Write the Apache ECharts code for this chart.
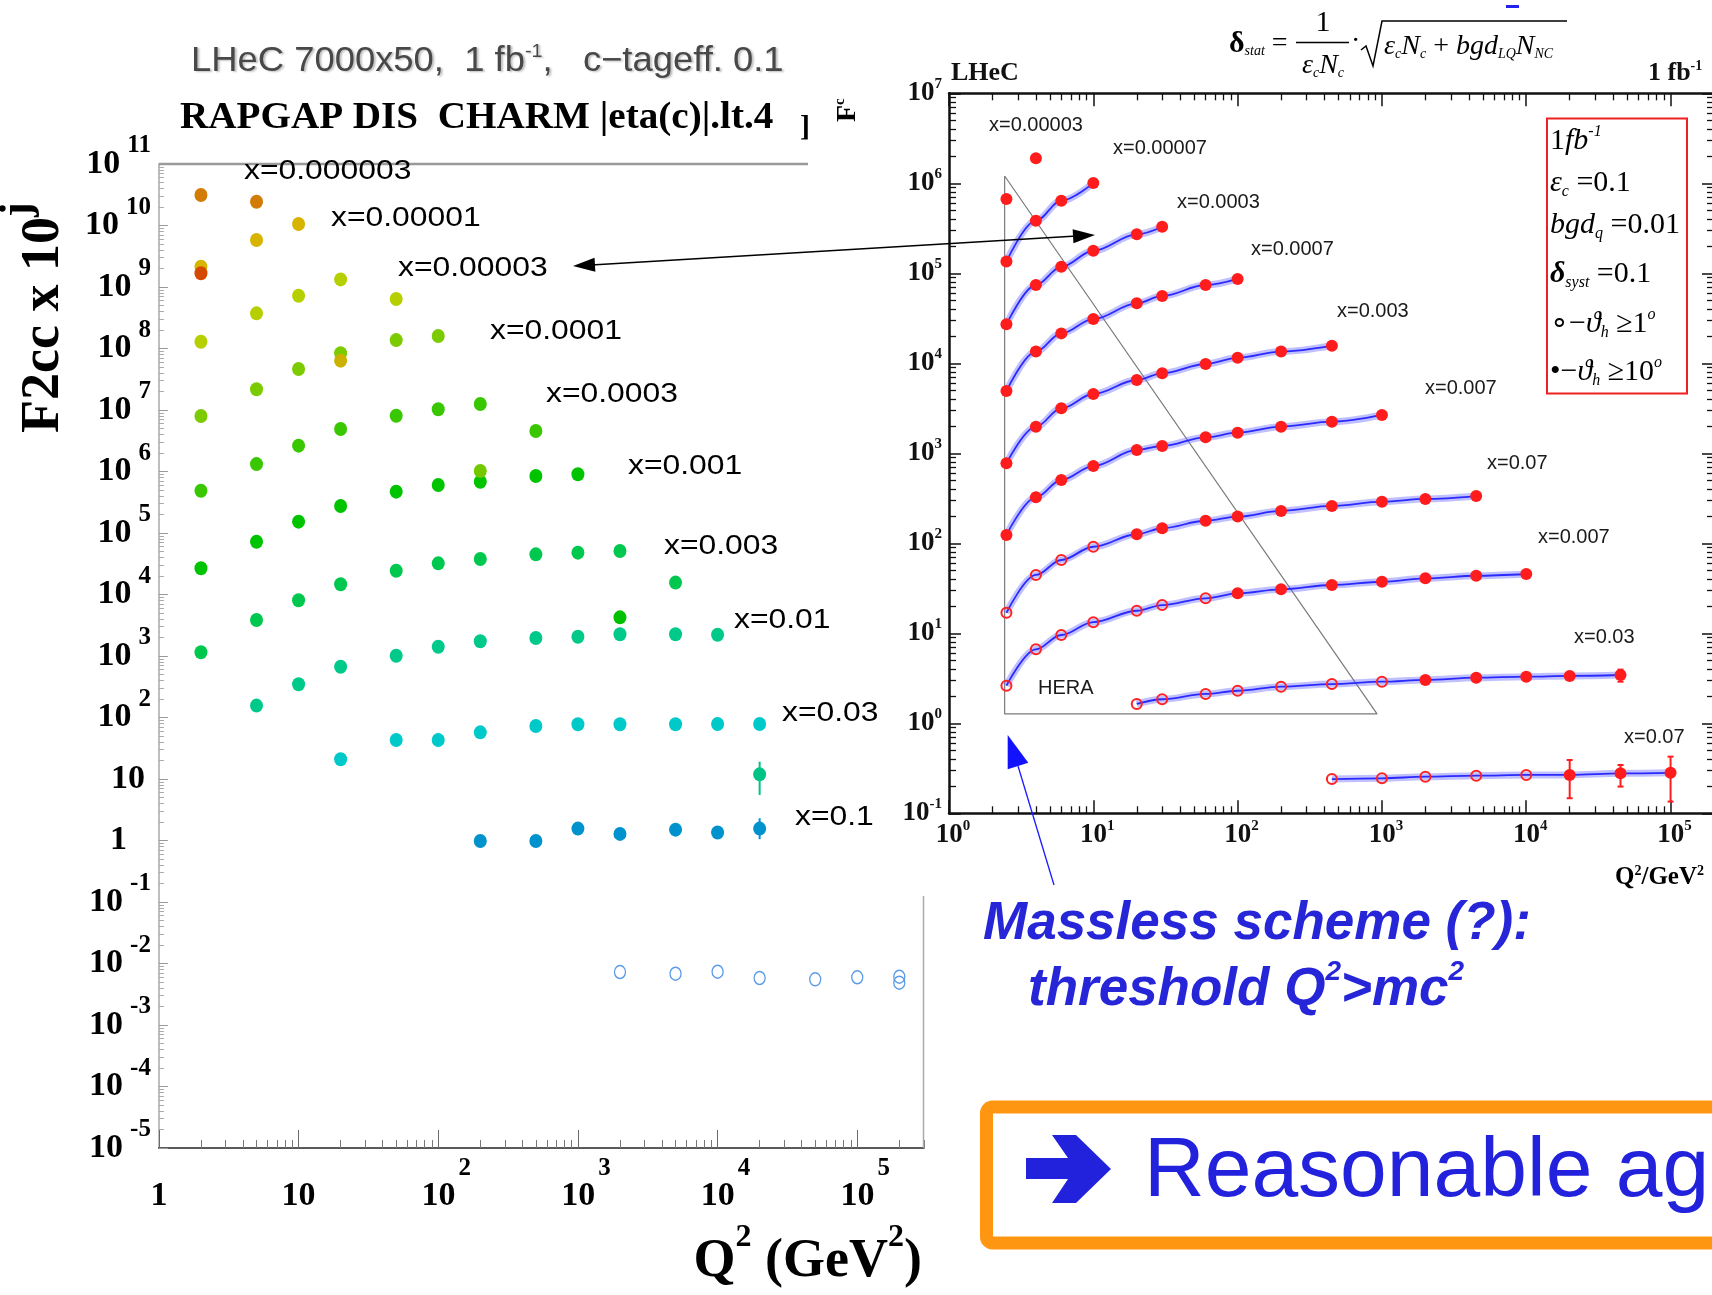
<!DOCTYPE html>
<html>
<head>
<meta charset="utf-8">
<title>F2cc LHeC</title>
<script src="https://cdn.jsdelivr.net/npm/echarts@6/dist/echarts.min.js"></script>
<style>
html,body{margin:0;padding:0;background:#ffffff;}
#chart{width:1712px;height:1295px;}
</style>
</head>
<body>
<div id="chart"></div>
<script>
// ================= DATA : left panel (RAPGAP DIS charm, F2cc x 10^j) =================
const L_LABELS = ['x=0.000003','x=0.00001','x=0.00003','x=0.0001','x=0.0003','x=0.001','x=0.003','x=0.01','x=0.03','x=0.1'];
const L_Q2_A = [2, 5];
const L_F_A  = [3.13e10, 2.44e10];
const L_Q2_B = [2, 5, 10];
const L_F_B  = [2.14e9, 5.81e9, 1.06e10];
const L_Q2_C = [2, 5, 10, 20, 50];
const L_F_C  = [1.29e8, 3.73e8, 7.22e8, 1.33e9, 6.38e8];
const L_Q2_D = [2, 5, 10, 20, 50, 100];
const L_F_D  = [7.98e6, 2.17e7, 4.65e7, 8.35e7, 1.37e8, 1.60e8];
const L_Q2_E = [2, 5, 10, 20, 50, 100, 200, 500];
const L_F_E  = [4.87e5, 1.32e6, 2.63e6, 4.91e6, 8.07e6, 1.03e7, 1.25e7, 4.56e6];
const L_Q2_F = [2, 5, 10, 20, 50, 100, 200, 500, 1000];
const L_F_F  = [2.67e4, 7.22e4, 1.53e5, 2.75e5, 4.70e5, 6.03e5, 6.82e5, 8.45e5, 9.00e5];
const L_Q2_G = [2, 5, 10, 20, 50, 100, 200, 500, 1000, 2000, 5000];
const L_F_G  = [1148, 3846, 8050, 1.47e4, 2.44e4, 3.21e4, 3.77e4, 4.50e4, 4.79e4, 5.10e4, 1.56e4];
const L_Q2_H = [5, 10, 20, 50, 100, 200, 500, 1000, 2000, 5000, 10000];
const L_F_H  = [156, 347, 670, 1011, 1417, 1734, 1963, 2061, 2254, 2254, 2220];
const L_Q2_I = [20, 50, 100, 200, 500, 1000, 2000, 5000, 10000, 20000];
const L_F_I  = [20.9, 43.0, 43.0, 57.4, 72.8, 77.5, 77.5, 77.5, 78.3, 78.3];
const L_Q2_J = [200, 500, 1000, 2000, 5000, 10000, 20000];
const L_F_J  = [0.98, 0.98, 1.56, 1.28, 1.50, 1.35, 1.56];
const L_Q2_OPEN = [2000, 5000, 10000, 20000, 50000, 100000, 200000, 200000];
const L_F_OPEN  = [7.27e-3, 6.83e-3, 7.36e-3, 5.81e-3, 5.53e-3, 5.97e-3, 6.10e-3, 4.88e-3];
const L_Q2_EXTRA = [2, 20, 200, 2000, 20000];
const L_F_EXTRA  = [1.67e9, 6.34e7, 1.02e6, 4250, 11.9];
const L_ERR_Q2 = [200, 20000, 20000];
const L_ERR_LO = [0.86, 1.05, 5.5];
const L_ERR_HI = [1.00, 2.30, 19.1];
const LX_MAJOR = [1, 10, 100, 1000, 10000, 100000];
const LY_MAJOR = [1e-5, 1e-4, 1e-3, 1e-2, 1e-1, 1, 10, 100, 1e3, 1e4, 1e5, 1e6, 1e7, 1e8, 1e9, 1e10, 1e11];

// ================= DATA : right panel (LHeC pseudo data) =================
const R_LABELS = ['x=0.00003','x=0.00007','x=0.0003','x=0.0007','x=0.003','x=0.007','x=0.07','x=0.007','x=0.03','x=0.07'];
const R_Q2_A = [2.5, 4];
const R_F_A  = [6.7e5, 1.9e6];
const R_Q2_B = [2.5, 4, 6, 10];
const R_F_B  = [1.35e5, 3.84e5, 6.41e5, 1.01e6];
const R_Q2_C = [2.5, 4, 6, 10, 20, 30];
const R_F_C  = [2.71e4, 7.41e4, 1.18e5, 1.78e5, 2.71e5, 3.29e5];
const R_Q2_D = [2.5, 4, 6, 10, 20, 30, 60, 100];
const R_F_D  = [4920, 1.35e4, 2.15e4, 3.10e4, 4.64e4, 5.60e4, 7.41e4, 8.65e4];
const R_Q2_E = [2.5, 4, 6, 10, 20, 30, 60, 100, 200, 450];
const R_F_E  = [774, 1977, 3162, 4560, 6520, 7740, 9820, 1.15e4, 1.35e4, 1.57e4];
const R_Q2_F = [2.5, 4, 6, 10, 20, 30, 60, 100, 200, 450, 1000];
const R_F_F  = [124, 324, 505, 722, 1089, 1205, 1506, 1693, 1977, 2245, 2666];
const R_Q2_G = [2.5, 4, 6, 10, 20, 30, 60, 100, 200, 450, 1000, 2000, 4500];
const R_F_G  = [16.9, 44.5, 65.2, 91.6, 126, 147, 178, 198, 229, 260, 290, 311, 335];
const R_Q2_H = [2.5, 4, 6, 10, 20, 30, 60, 100, 200, 450, 1000, 2000, 4500, 10000];
const R_F_H  = [2.62, 6.64, 9.57, 13.3, 17.8, 20.6, 24.5, 27.8, 30.8, 34.4, 37.4, 40.8, 43.6, 45.6];
const R_Q2_I = [20, 30, 60, 100, 200, 450, 1000, 2000, 4500, 10000, 20000, 45000];
const R_F_I  = [1.64, 1.85, 2.12, 2.30, 2.55, 2.73, 2.90, 3.03, 3.21, 3.30, 3.36, 3.44];
const R_Q2_J = [450, 1000, 2000, 4500, 10000, 20000, 45000, 100000];
const R_F_J  = [0.240, 0.245, 0.255, 0.262, 0.267, 0.267, 0.278, 0.282];
const R_OPEN_COUNT = [0, 0, 0, 0, 0, 0, 4, 7, 7, 5];
const R_ERR_Q2 = [45000, 20000, 45000, 100000];
const R_ERR_LO = [2.90, 0.147, 0.198, 0.135];
const R_ERR_HI = [3.95, 0.391, 0.344, 0.426];
const HERA_Q2 = [2.43, 2.43, 925, 2.43];
const HERA_F  = [1.205e6, 1.27, 1.27, 1.205e6];
const RX_MAJOR = [1, 10, 100, 1000, 10000, 100000];
const RY_MAJOR = [0.1, 1, 10, 100, 1e3, 1e4, 1e5, 1e6, 1e7];

// ================= STYLE =================
const SERIF = '"Liberation Serif","Times New Roman",serif';
const SANS = '"Liberation Sans",Arial,sans-serif';
const L_COLORS = ['#d27c06','#d6b400','#b6cf00','#7ccb00','#38c700','#00c400','#00c84e','#00c98a','#00c9c9','#0092cc'];
const L_EXTRA_COLORS = ['#d44800','#ccb200','#74c800','#00c000','#00c486'];
const L_ERR_COLORS = ['#0092cc','#0092cc','#00c486'];

// ================= helpers =================
const pairs = (q, f) => q.map((x, i) => [x, f[i]]);
function minorTicks(e0, e1, max) {
  const r = [];
  for (let e = e0; e < e1; e++) for (let m = 2; m <= 9; m++) {
    const v = m * Number('1e' + e);
    if (v <= max * 1.0000001) r.push(v);
  }
  return r;
}
const LX_MINOR = minorTicks(0, 6, 3e5);
const LY_MINOR = minorTicks(-5, 11, 1e11);
const RX_MINOR = minorTicks(0, 6, 2e5);
const RY_MINOR = minorTicks(-1, 7, 1e7);
const expOf = v => Math.round(Math.log10(v));

function logAxis(o) {
  return Object.assign({
    type: 'log', logBase: 10, silent: true,
    splitLine: {show: false}, minorTick: {show: false}, minorSplitLine: {show: false},
    axisLine: {show: false}, axisTick: {show: false}, axisLabel: {show: false},
    axisPointer: {show: false}
  }, o);
}

const LX_RICH = {
  b: {fontFamily: SERIF, fontWeight: 'bold', fontSize: 34, lineHeight: 80, color: '#000'},
  s: {fontFamily: SERIF, fontWeight: 'bold', fontSize: 25, lineHeight: 25, padding: [0, 0, 54, 3], color: '#000'},
  p: {width: 16, fontSize: 10}
};
function lxFmt(v) {
  const e = expOf(v);
  if (e === 0) return '{b|1}';
  if (e === 1) return '{b|10}';
  return '{p| }{b|10}{s|' + e + '}';
}
const LY_RICH = {
  b: {fontFamily: SERIF, fontWeight: 'bold', fontSize: 34, lineHeight: 60, color: '#000'},
  s: {fontFamily: SERIF, fontWeight: 'bold', fontSize: 25, lineHeight: 25, padding: [0, 0, 36, 7], color: '#000'},
  q1: {width: 24, fontSize: 10},
  q2: {width: 6, fontSize: 10}
};
function lyFmt(v) {
  const e = expOf(v);
  if (e === 0) return '{b|1}{q1| }';
  if (e === 1) return '{b|10}{q2| }';
  return '{b|10}{s|' + e + '}';
}
const RY_RICH = {
  b: {fontFamily: SERIF, fontWeight: 'bold', fontSize: 27, lineHeight: 36, color: '#111'},
  s: {fontFamily: SERIF, fontWeight: 'bold', fontSize: 15, lineHeight: 15, padding: [0, 0, 18, 0], color: '#111'}
};
function ryFmt(v) { return '{b|10}{s|' + expOf(v) + '}'; }
const RX_RICH = {
  b: {fontFamily: SERIF, fontWeight: 'bold', fontSize: 27, lineHeight: 36, color: '#111'},
  s: {fontFamily: SERIF, fontWeight: 'bold', fontSize: 15, lineHeight: 15, padding: [0, 0, 18, 0], color: '#111'},
  p: {width: 8, fontSize: 10}
};
function rxFmt(v) { return '{p| }{b|10}{s|' + expOf(v) + '}'; }

function errSeries(xi, yi, q, lo, hi, colors, cap, width, z) {
  return {
    type: 'custom', xAxisIndex: xi, yAxisIndex: yi, silent: true, z: z,
    data: q.map((x, i) => [x, lo[i], hi[i], i]),
    renderItem: function (params, api) {
      const p1 = api.coord([api.value(0), api.value(1)]);
      const p2 = api.coord([api.value(0), api.value(2)]);
      const col = colors[api.value(3)] || colors[0];
      const st = {stroke: col, lineWidth: width};
      const ch = [{type: 'line', shape: {x1: p1[0], y1: p1[1], x2: p2[0], y2: p2[1]}, style: st}];
      if (cap) {
        ch.push({type: 'line', shape: {x1: p1[0] - cap, y1: p1[1], x2: p1[0] + cap, y2: p1[1]}, style: st});
        ch.push({type: 'line', shape: {x1: p2[0] - cap, y1: p2[1], x2: p2[0] + cap, y2: p2[1]}, style: st});
      }
      return {type: 'group', children: ch};
    }
  };
}

// ================= series =================
const L_SETS = [[L_Q2_A, L_F_A], [L_Q2_B, L_F_B], [L_Q2_C, L_F_C], [L_Q2_D, L_F_D], [L_Q2_E, L_F_E],
                [L_Q2_F, L_F_F], [L_Q2_G, L_F_G], [L_Q2_H, L_F_H], [L_Q2_I, L_F_I], [L_Q2_J, L_F_J]];
const R_SETS = [[R_Q2_A, R_F_A], [R_Q2_B, R_F_B], [R_Q2_C, R_F_C], [R_Q2_D, R_F_D], [R_Q2_E, R_F_E],
                [R_Q2_F, R_F_F], [R_Q2_G, R_F_G], [R_Q2_H, R_F_H], [R_Q2_I, R_F_I], [R_Q2_J, R_F_J]];

const series = [];
L_SETS.forEach((s, i) => series.push({
  type: 'scatter', name: L_LABELS[i], xAxisIndex: 0, yAxisIndex: 0, silent: true, z: 3,
  symbol: 'circle', symbolSize: [13, 14], itemStyle: {color: L_COLORS[i], opacity: 1},
  data: pairs(s[0], s[1])
}));
series.push({
  type: 'scatter', xAxisIndex: 0, yAxisIndex: 0, silent: true, z: 4,
  symbol: 'circle', symbolSize: [13, 14],
  data: L_Q2_EXTRA.map((q, i) => ({value: [q, L_F_EXTRA[i]], itemStyle: {color: L_EXTRA_COLORS[i], opacity: 1}}))
});
series.push({
  type: 'scatter', xAxisIndex: 0, yAxisIndex: 0, silent: true, z: 3,
  symbol: 'circle', symbolSize: [11, 13],
  itemStyle: {color: 'rgba(255,255,255,0)', borderColor: '#5b9be8', borderWidth: 1.4, opacity: 1},
  data: pairs(L_Q2_OPEN, L_F_OPEN)
});
series.push(errSeries(0, 0, L_ERR_Q2, L_ERR_LO, L_ERR_HI, L_ERR_COLORS, 0, 2, 2));

// HERA triangle
series.push({
  type: 'line', xAxisIndex: 2, yAxisIndex: 2, silent: true, z: 1, symbol: 'none',
  lineStyle: {color: '#7a7a7a', width: 1.2}, data: pairs(HERA_Q2, HERA_F)
});
R_SETS.forEach((s, i) => {
  const d = pairs(s[0], s[1]);
  if (i > 0) {
    series.push({type: 'line', xAxisIndex: 2, yAxisIndex: 2, silent: true, z: 2, symbol: 'none',
      smooth: 0.35, smoothMonotone: 'x', lineStyle: {color: 'rgba(105,105,255,0.42)', width: 7}, data: d});
    series.push({type: 'line', xAxisIndex: 2, yAxisIndex: 2, silent: true, z: 3, symbol: 'none',
      smooth: 0.35, smoothMonotone: 'x', lineStyle: {color: '#2a2aff', width: 1.8}, data: d});
  }
  const n = R_OPEN_COUNT[i];
  if (n > 0) series.push({type: 'scatter', name: R_LABELS[i], xAxisIndex: 2, yAxisIndex: 2, silent: true, z: 5,
    symbol: 'circle', symbolSize: 10,
    itemStyle: {color: 'rgba(255,255,255,0)', borderColor: '#ff2222', borderWidth: 2, opacity: 1},
    data: d.slice(0, n)});
  series.push({type: 'scatter', name: R_LABELS[i], xAxisIndex: 2, yAxisIndex: 2, silent: true, z: 5,
    symbol: 'circle', symbolSize: 12, itemStyle: {color: '#ff1c1c', opacity: 1}, data: d.slice(n)});
});
series.push(errSeries(2, 2, R_ERR_Q2, R_ERR_LO, R_ERR_HI, ['#ff1c1c'], 3, 2, 6));

// ================= graphic annotations =================
const G = [];
function T(x, y, style, extra) {
  G.push(Object.assign({type: 'text', x: x, y: y, z: 100, silent: true,
    style: Object.assign({fill: '#000', align: 'left', verticalAlign: 'middle'}, style)}, extra || {}));
}
function L(x1, y1, x2, y2, stroke, w) {
  G.push({type: 'line', z: 100, silent: true, shape: {x1, y1, x2, y2}, style: {stroke: stroke, lineWidth: w}});
}

// left panel titles
T(191, 61, {text: 'LHeC 7000x50,  1 fb{sp|-1},   c\u2212tageff. 0.1', fontFamily: SANS, fontSize: 35, fill: '#484848',
  textShadowColor: 'rgba(0,0,0,0.25)', textShadowBlur: 2, textShadowOffsetX: 2, textShadowOffsetY: 1,
  rich: {sp: {fontFamily: SANS, fontSize: 19, padding: [0, 0, 18, 0], fill: '#484848'}}}, {scaleX: 1.04});
T(180, 118, {text: 'RAPGAP DIS  CHARM |eta(c)|.lt.4', fontFamily: SERIF, fontWeight: 'bold', fontSize: 38}, {scaleX: 1.03});
T(800, 128, {text: ']', fontFamily: SERIF, fontWeight: 'bold', fontSize: 30});
T(848, 122, {text: '{b|F}{s|c}', rich: {b: {fontFamily: SERIF, fontWeight: 'bold', fontSize: 28}, s: {fontFamily: SERIF, fontWeight: 'bold', fontSize: 15, padding: [0, 0, 16, 0]}}}, {rotation: Math.PI / 2});

// left frame pieces
L(158.9, 164, 808, 164, '#9a9a9a', 2.5);
L(923.5, 896, 923.5, 1148, '#aaaaaa', 1.5);

// left axis titles
T(44, 433, {text: '{b|F2cc x 10}{s|j}', rich: {
  b: {fontFamily: SERIF, fontWeight: 'bold', fontSize: 54, lineHeight: 90},
  s: {fontFamily: SERIF, fontWeight: 'bold', fontSize: 44, lineHeight: 44, padding: [0, 0, 50, 0]}}}, {rotation: Math.PI / 2});
T(922, 1262, {align: 'right', text: '{b|Q}{s|2}{b| (GeV}{s|2}{b|)}', rich: {
  b: {fontFamily: SERIF, fontWeight: 'bold', fontSize: 54, lineHeight: 80},
  s: {fontFamily: SERIF, fontWeight: 'bold', fontSize: 32, lineHeight: 32, padding: [0, 0, 48, 0]}}});

// left bin labels
const L_LABEL_POS = [[244, 172], [331, 219], [398, 269], [490, 332], [546, 395], [628, 467], [664, 547], [734, 621], [782, 714], [795, 818]];
L_LABELS.forEach((t, i) => T(L_LABEL_POS[i][0], L_LABEL_POS[i][1], {text: t, fontFamily: SANS, fontSize: 27}, {scaleX: 1.18}));

// right panel texts
T(951, 73, {text: 'LHeC', fontFamily: SERIF, fontWeight: 'bold', fontSize: 26, fill: '#111'});
T(1648, 73, {text: '1 fb{s|-1}', fontFamily: SERIF, fontWeight: 'bold', fontSize: 26, fill: '#111',
  rich: {s: {fontFamily: SERIF, fontWeight: 'bold', fontSize: 14, padding: [0, 0, 14, 0], fill: '#111'}}});
// formula
const FR = {
  d: {fontFamily: SERIF, fontWeight: 'bold', fontSize: 30},
  n: {fontFamily: SERIF, fontSize: 28},
  i: {fontFamily: SERIF, fontStyle: 'italic', fontSize: 28},
  sb: {fontFamily: SERIF, fontStyle: 'italic', fontSize: 14, padding: [14, 0, 0, 0]}
};
T(1229, 44, {text: '{d|\u03b4}{sb|stat}{n| =}', rich: FR});
T(1323, 23, {text: '1', fontFamily: SERIF, fontSize: 30, align: 'center'});
L(1296, 42.5, 1349, 42.5, '#000', 1.5);
T(1323, 66, {text: '{i|\u03b5}{sb|c}{i|N}{sb|c}', align: 'center', rich: FR});
T(1351, 42, {text: '\u00b7', fontFamily: SERIF, fontSize: 28});
G.push({type: 'polyline', z: 100, silent: true, shape: {points: [[1361, 50], [1366, 46], [1373, 66], [1382, 21], [1567, 21]]},
  style: {stroke: '#000', lineWidth: 1.5, fill: null}});
T(1384, 47, {text: '{i|\u03b5}{sb|c}{i|N}{sb|c}{n| + }{i|bgd}{sb|LQ}{i|N}{sb|NC}', rich: FR});
G.push({type: 'rect', z: 100, silent: true, shape: {x: 1506, y: 5, width: 13, height: 3}, style: {fill: '#2222ee'}});

// right panel bin labels
const R_LABEL_POS = [[989, 125], [1113, 148], [1177, 202], [1251, 249], [1337, 311], [1425, 388], [1487, 463], [1538, 537], [1574, 637], [1624, 737]];
R_LABELS.forEach((t, i) => T(R_LABEL_POS[i][0], R_LABEL_POS[i][1], {text: t, fontFamily: SANS, fontSize: 20, fill: '#1a1a1a'}));
T(1038, 688, {text: 'HERA', fontFamily: SANS, fontSize: 20, fill: '#1a1a1a'});
T(1615, 878, {text: '{b|Q}{s|2}{b|/GeV}{s|2}', rich: {
  b: {fontFamily: SERIF, fontWeight: 'bold', fontSize: 25},
  s: {fontFamily: SERIF, fontWeight: 'bold', fontSize: 14, padding: [0, 0, 14, 0]}}});

// legend box
G.push({type: 'rect', z: 100, silent: true, shape: {x: 1547, y: 118.5, width: 140, height: 275},
  style: {fill: 'rgba(255,255,255,0)', stroke: '#ee2020', lineWidth: 2}});
const LG_RICH = {
  n: {fontFamily: SERIF, fontSize: 30},
  i: {fontFamily: SERIF, fontStyle: 'italic', fontSize: 30},
  b: {fontFamily: SERIF, fontStyle: 'italic', fontWeight: 'bold', fontSize: 30},
  sub: {fontFamily: SERIF, fontStyle: 'italic', fontSize: 16, padding: [18, 0, 0, 0]},
  sup: {fontFamily: SERIF, fontStyle: 'italic', fontSize: 16, padding: [0, 0, 18, 0]}
};
const LEG_LINES = ['{n|1}{i|fb}{sup|-1}', '{i|\u03b5}{sub|c}{n| =0.1}', '{i|bgd}{sub|q}{n| =0.01}',
  '{b|\u03b4}{sub|syst}{n| =0.1}', '{n|\u2218\u2212}{i|\u03d1}{sub|h}{n| \u22651}{sup|o}', '{n|\u2022\u2212}{i|\u03d1}{sub|h}{n| \u226510}{sup|o}'];
const LEG_Y = [141, 183, 225, 274, 324, 372];
LEG_LINES.forEach((t, i) => T(1550, LEG_Y[i], {text: t, rich: LG_RICH}));

// black double arrow
(function () {
  const a = [573, 266], b = [1095, 235];
  const dx = b[0] - a[0], dy = b[1] - a[1], len = Math.hypot(dx, dy);
  const ux = dx / len, uy = dy / len, nx = -uy, ny = ux, hl = 22, hw = 7;
  L(a[0] + ux * 10, a[1] + uy * 10, b[0] - ux * 10, b[1] - uy * 10, '#000', 1.5);
  G.push({type: 'polygon', z: 101, silent: true, style: {fill: '#000'}, shape: {points: [
    a, [a[0] + ux * hl + nx * hw, a[1] + uy * hl + ny * hw], [a[0] + ux * hl - nx * hw, a[1] + uy * hl - ny * hw]]}});
  G.push({type: 'polygon', z: 101, silent: true, style: {fill: '#000'}, shape: {points: [
    b, [b[0] - ux * hl + nx * hw, b[1] - uy * hl + ny * hw], [b[0] - ux * hl - nx * hw, b[1] - uy * hl - ny * hw]]}});
})();

// blue arrow to HERA corner
L(1054, 885, 1018, 766, '#1a1aff', 1.3);
G.push({type: 'polygon', z: 101, silent: true, style: {fill: '#1212ff'}, shape: {points: [[1007.7, 735], [1007.7, 769.3], [1028.3, 762.7]]}});

// blue comments
const BLUE = '#2626d8';
T(983, 924, {text: 'Massless scheme (?):', fontFamily: SANS, fontWeight: 'bold', fontStyle: 'italic', fontSize: 53, fill: BLUE});
T(1028, 990, {text: '{b|threshold Q}{s|2}{b|>mc}{s|2}', fill: BLUE, rich: {
  b: {fontFamily: SANS, fontWeight: 'bold', fontStyle: 'italic', fontSize: 53, lineHeight: 70, fill: BLUE},
  s: {fontFamily: SANS, fontWeight: 'bold', fontStyle: 'italic', fontSize: 28, lineHeight: 28, padding: [0, 0, 36, 0], fill: BLUE}}});

// orange conclusion box
G.push({type: 'rect', z: 100, silent: true, shape: {x: 986.5, y: 1107, width: 780, height: 136, r: 6},
  style: {fill: '#ffffff', stroke: '#ff9612', lineWidth: 13}});
G.push({type: 'polygon', z: 101, silent: true, style: {fill: '#2222dd'}, shape: {points: [
  [1026, 1158], [1068, 1158], [1052, 1135], [1076, 1135], [1111, 1169], [1076, 1203], [1052, 1203], [1068, 1179], [1026, 1179]]}});
T(1144, 1173, {text: 'Reasonable agreement', fontFamily: SANS, fontSize: 84, fill: '#2222dd'});

// ================= option =================
const option = {
  animation: false,
  backgroundColor: '#ffffff',
  tooltip: {show: false},
  grid: [
    {left: 158.9, top: 164, width: 765, height: 984, containLabel: false, outerBoundsMode: 'none'},
    {left: 949, top: 93.3, width: 765, height: 720, containLabel: false, outerBoundsMode: 'none'}
  ],
  xAxis: [
    logAxis({gridIndex: 0, position: 'bottom', min: 1, max: 3e5,
      axisLine: {show: true, onZero: false, lineStyle: {color: '#5a5a5a', width: 2}},
      axisTick: {show: true, inside: true, length: 18, customValues: LX_MAJOR, lineStyle: {color: '#6a6a6a', width: 1}},
      axisLabel: {show: true, customValues: LX_MAJOR, margin: 8, formatter: lxFmt, rich: LX_RICH, color: '#000'}}),
    logAxis({gridIndex: 0, position: 'bottom', min: 1, max: 3e5,
      axisTick: {show: true, inside: true, length: 8, customValues: LX_MINOR, lineStyle: {color: '#777', width: 1}}}),
    logAxis({gridIndex: 1, position: 'bottom', min: 1, max: 2e5,
      axisLine: {show: true, onZero: false, lineStyle: {color: '#111', width: 2.5}},
      axisTick: {show: true, inside: true, length: 13, customValues: RX_MAJOR, lineStyle: {color: '#111', width: 1.5}},
      axisLabel: {show: true, customValues: RX_MAJOR, margin: 4, formatter: rxFmt, rich: RX_RICH, color: '#111'}}),
    logAxis({gridIndex: 1, position: 'bottom', min: 1, max: 2e5,
      axisTick: {show: true, inside: true, length: 7, customValues: RX_MINOR, lineStyle: {color: '#111', width: 1.3}}}),
    logAxis({gridIndex: 1, position: 'top', min: 1, max: 2e5,
      axisLine: {show: true, onZero: false, lineStyle: {color: '#111', width: 2.5}},
      axisTick: {show: true, inside: true, length: 13, customValues: RX_MAJOR, lineStyle: {color: '#111', width: 1.5}}}),
    logAxis({gridIndex: 1, position: 'top', min: 1, max: 2e5,
      axisTick: {show: true, inside: true, length: 7, customValues: RX_MINOR, lineStyle: {color: '#111', width: 1.3}}})
  ],
  yAxis: [
    logAxis({gridIndex: 0, position: 'left', min: 1e-5, max: 1e11,
      axisLine: {show: true, onZero: false, lineStyle: {color: '#a8a8a8', width: 1.5}},
      axisTick: {show: true, inside: true, length: 9, customValues: LY_MAJOR, lineStyle: {color: '#999', width: 1}},
      axisLabel: {show: true, customValues: LY_MAJOR, margin: 8, formatter: lyFmt, rich: LY_RICH, color: '#000'}}),
    logAxis({gridIndex: 0, position: 'left', min: 1e-5, max: 1e11,
      axisTick: {show: true, inside: true, length: 5, customValues: LY_MINOR, lineStyle: {color: '#aaa', width: 1}}}),
    logAxis({gridIndex: 1, position: 'left', min: 0.1, max: 1e7,
      axisLine: {show: true, onZero: false, lineStyle: {color: '#111', width: 2.5}},
      axisTick: {show: true, inside: true, length: 12, customValues: RY_MAJOR, lineStyle: {color: '#111', width: 1.5}},
      axisLabel: {show: true, customValues: RY_MAJOR, margin: 7, formatter: ryFmt, rich: RY_RICH, color: '#111'}}),
    logAxis({gridIndex: 1, position: 'left', min: 0.1, max: 1e7,
      axisTick: {show: true, inside: true, length: 7, customValues: RY_MINOR, lineStyle: {color: '#111', width: 1.3}}}),
    logAxis({gridIndex: 1, position: 'right', min: 0.1, max: 1e7,
      axisLine: {show: true, onZero: false, lineStyle: {color: '#111', width: 2.5}},
      axisTick: {show: true, inside: true, length: 12, customValues: RY_MAJOR, lineStyle: {color: '#111', width: 1.5}}}),
    logAxis({gridIndex: 1, position: 'right', min: 0.1, max: 1e7,
      axisTick: {show: true, inside: true, length: 7, customValues: RY_MINOR, lineStyle: {color: '#111', width: 1.3}}})
  ],
  series: series,
  graphic: {elements: G}
};

const chart = echarts.init(document.getElementById('chart'), null, {renderer: 'canvas', width: 1712, height: 1295});
chart.setOption(option);
</script>
</body>
</html>
